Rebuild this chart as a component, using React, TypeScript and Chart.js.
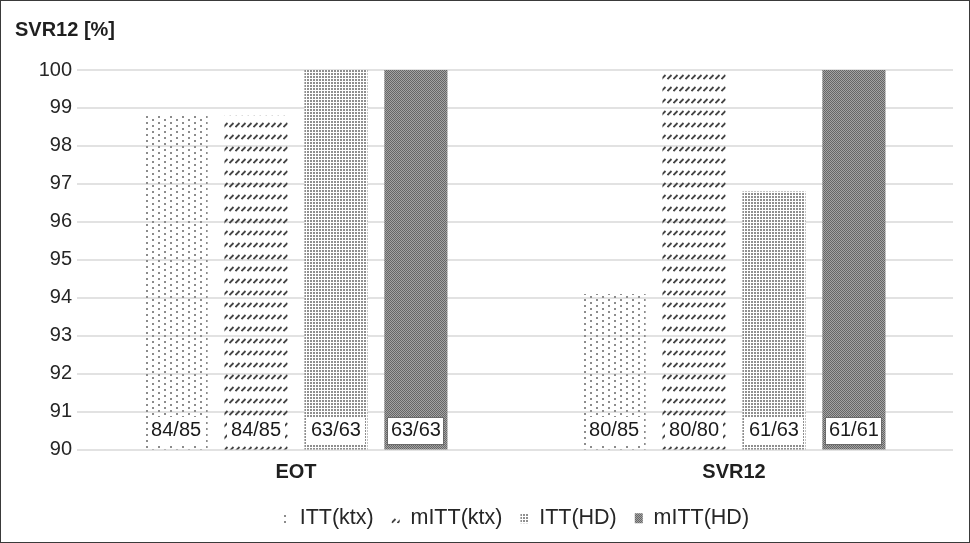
import React, { useEffect, useRef } from 'react';
import { Chart, registerables } from 'chart.js';

Chart.register(...registerables);

const categories = ['EOT', 'SVR12'];
const seriesNames = ['ITT(ktx)', 'mITT(ktx)', 'ITT(HD)', 'mITT(HD)'];
const ittKtx = [98.8, 94.1];
const mittKtx = [98.8, 99.9];
const ittHd = [100, 96.8];
const mittHd = [100, 100];
const ittKtxLabels = ['84/85', '80/85'];
const mittKtxLabels = ['84/85', '80/80'];
const ittHdLabels = ['63/63', '61/63'];
const mittHdLabels = ['63/63', '61/61'];
const yMin = 90;
const yMax = 100;
const yStep = 1;
const yTitle = 'SVR12 [%]';

const FONT = "'Liberation Sans', Arial, Helvetica, sans-serif";

function makePattern(kind: string): CanvasPattern | string {
  const c = document.createElement('canvas');
  let w = 4, h = 4;
  if (kind === 'sparse') { w = 12; h = 6; }
  if (kind === 'slash') { w = 6; h = 12; }
  if (kind === 'dense') { w = 3; h = 3; }
  if (kind === 'dark') { w = 2; h = 2; }
  c.width = w; c.height = h;
  const g = c.getContext('2d');
  if (!g) return '#999';
  if (kind === 'sparse') {
    g.fillStyle = '#8c8c8c';
    g.fillRect(1, 1, 2, 2);
    g.fillRect(7, 4, 2, 2);
  } else if (kind === 'slash') {
    g.strokeStyle = '#444444';
    g.lineWidth = 1.8;
    g.beginPath();
    g.moveTo(0.5, 6);
    g.lineTo(4.5, 2);
    g.stroke();
  } else if (kind === 'dense') {
    g.fillStyle = '#ffffff';
    g.fillRect(0, 0, 3, 3);
    g.fillStyle = '#8f8f8f';
    g.fillRect(0, 0, 2, 2);
  } else {
    g.fillStyle = '#a3a3a3';
    g.fillRect(0, 0, 2, 2);
    g.fillStyle = '#666666';
    g.fillRect(0, 0, 1, 1);
    g.fillRect(1, 1, 1, 1);
  }
  const p = g.createPattern(c, 'repeat');
  return p || '#999';
}

const allLabels = [ittKtxLabels, mittKtxLabels, ittHdLabels, mittHdLabels];

const labelPlugin = {
  id: 'boxLabels',
  afterDatasetsDraw(chart: any) {
    const ctx = chart.ctx;
    const areaBottom = chart.chartArea.bottom;
    ctx.save();
    for (let i = 0; i < chart.data.datasets.length; i++) {
      const meta = chart.getDatasetMeta(i);
      for (let j = 0; j < meta.data.length; j++) {
        const bar: any = meta.data[j];
        const x = bar.x;
        const w = bar.width;
        const base = Math.min(bar.base, areaBottom);
        const left = Math.round(x - w / 2 + 3);
        const right = Math.round(x + w / 2 - 3);
        const top = Math.round(base - 33);
        const bottom = Math.round(base - 5);
        ctx.fillStyle = '#ffffff';
        ctx.fillRect(left, top, right - left, bottom - top);
        if (i === 3) {
          ctx.strokeStyle = '#6a6a6a';
          ctx.lineWidth = 1;
          ctx.strokeRect(left + 0.5, top + 0.5, right - left - 1, bottom - top - 1);
        }
        ctx.fillStyle = '#1a1a1a';
        ctx.font = '20px ' + FONT;
        ctx.textAlign = 'center';
        ctx.textBaseline = 'middle';
        ctx.fillText(allLabels[i][j], x, base - 19);
      }
    }
    ctx.restore();
  },
};

export default function App() {
  const ref = useRef<HTMLCanvasElement | null>(null);

  useEffect(() => {
    if (!ref.current) return;
    const chart = new Chart(ref.current, {
      type: 'bar',
      data: {
        labels: categories,
        datasets: [
          { label: seriesNames[0], data: ittKtx, backgroundColor: makePattern('sparse') as any },
          { label: seriesNames[1], data: mittKtx, backgroundColor: makePattern('slash') as any },
          { label: seriesNames[2], data: ittHd, backgroundColor: makePattern('dense') as any },
          { label: seriesNames[3], data: mittHd, backgroundColor: makePattern('dark') as any },
        ],
      },
      options: {
        animation: false,
        responsive: false,
        maintainAspectRatio: false,
        datasets: { bar: { categoryPercentage: 0.73, barPercentage: 0.79 } },
        layout: { padding: { left: 14, right: 16, top: 0, bottom: 3 } },
        plugins: {
          title: {
            display: true,
            text: yTitle,
            align: 'start',
            color: '#1f1f1f',
            font: { family: FONT, size: 20, weight: 'bold' },
            padding: { top: 17, bottom: 28 },
          },
          legend: {
            position: 'bottom',
            fullSize: false,
            labels: {
              color: '#262626',
              font: { family: FONT, size: 21.5 },
              boxWidth: 8,
              boxHeight: 10,
              padding: 18,
            },
          },
          tooltip: { enabled: false },
        },
        scales: {
          x: {
            grid: { display: false },
            border: { display: false },
            ticks: {
              color: '#1f1f1f',
              font: { family: FONT, size: 20, weight: 'bold' },
              padding: 3,
            },
            afterFit: (s: any) => { s.height = 40; },
          },
          y: {
            min: yMin,
            max: yMax,
            grid: { color: '#e2e2e2', lineWidth: 2, drawTicks: false },
            border: { display: false },
            ticks: {
              stepSize: yStep,
              color: '#262626',
              font: { family: FONT, size: 20 },
              padding: 5,
            },
            afterFit: (s: any) => { s.width = 62; },
          },
        },
      },
      plugins: [labelPlugin],
    });
    return () => chart.destroy();
  }, []);

  return (
    <div
      style={{
        position: 'fixed',
        left: 0,
        top: 0,
        width: 970,
        height: 543,
        border: '1px solid #3a3a3a',
        boxSizing: 'border-box',
        background: '#ffffff',
      }}
    >
      <canvas ref={ref} width={968} height={541} style={{ display: 'block', width: 968, height: 541 }} />
    </div>
  );
}
